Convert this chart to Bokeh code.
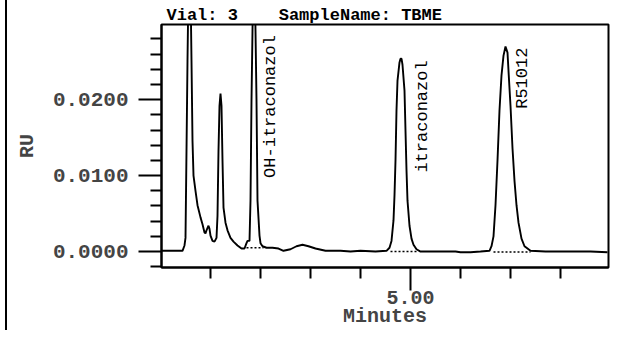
import math
from bokeh.plotting import figure
from bokeh.layouts import row
from bokeh.models import (FixedTicker, PrintfTickFormatter, Range1d,
                          ColumnDataSource, Spacer)
from bokeh.core.properties import value
from bokeh.embed import file_html
from bokeh.resources import INLINE

# ---- data ----
time_min = [
    2.51, 2.72, 2.74, 2.75, 2.76, 2.77, 2.79, 2.81, 2.82, 2.83,
    2.85, 2.87, 2.90, 2.92, 2.94, 2.95, 2.96, 2.98, 2.99, 3.00,
    3.02, 3.04, 3.06, 3.07, 3.08, 3.09, 3.10, 3.11, 3.12, 3.13,
    3.15, 3.17, 3.20, 3.23, 3.27, 3.31, 3.34, 3.36, 3.37, 3.39,
    3.40, 3.41, 3.42, 3.435, 3.45, 3.46, 3.47, 3.49, 3.50, 3.52,
    3.56, 3.62, 3.68, 3.73, 3.80, 3.86, 3.92, 3.98, 4.05, 4.15,
    4.30, 4.40, 4.50, 4.65, 4.76, 4.79, 4.81, 4.83, 4.84, 4.85,
    4.86, 4.87, 4.89, 4.90, 4.91, 4.92, 4.94, 4.95, 4.96, 4.97,
    4.99, 5.01, 5.03, 5.06, 5.10, 5.30, 5.45, 5.50, 5.60, 5.70,
    5.79, 5.81, 5.83, 5.85, 5.87, 5.89, 5.91, 5.93, 5.95, 5.97,
    5.98, 6.00, 6.02, 6.04, 6.06, 6.08, 6.11, 6.14, 6.20, 6.35,
    6.60, 6.80, 6.97,
]
signal_ru = [
    0.0001, 0.0001, 0.0008, 0.0018, 0.0133, 0.0251, 0.0450, 0.0251, 0.0146, 0.0100,
    0.0080, 0.0061, 0.0045, 0.0036, 0.0025, 0.0024, 0.0028, 0.0034, 0.0030, 0.0021,
    0.0014, 0.0013, 0.0018, 0.0047, 0.0133, 0.0192, 0.0208, 0.0192, 0.0120, 0.0058,
    0.0038, 0.0028, 0.0018, 0.0013, 0.0008, 0.0004, 0.0004, 0.0011, 0.0014, 0.0014,
    0.0067, 0.0199, 0.0291, 0.0420, 0.0291, 0.0199, 0.0067, 0.0021, 0.0011, 0.0007,
    0.0005, 0.0005, 0.0004, 0.0001, 0.0003, 0.0007, 0.0009, 0.0007, 0.0004, 0.0001,
    0.0001, 0.0000, 0.0001, 0.0000, 0.0001, 0.0005, 0.0014, 0.0041, 0.0074, 0.0120,
    0.0186, 0.0225, 0.0249, 0.0254, 0.0254, 0.0246, 0.0212, 0.0159, 0.0107, 0.0067,
    0.0034, 0.0017, 0.0009, 0.0003, 0.0000, 0.0000, 0.0000, -0.0001, -0.0001, 0.0000,
    0.0001, 0.0007, 0.0020, 0.0061, 0.0120, 0.0186, 0.0232, 0.0258, 0.0270, 0.0262,
    0.0238, 0.0192, 0.0136, 0.0093, 0.0061, 0.0038, 0.0017, 0.0007, 0.0001, 0.0000,
    0.0000, 0.0000, -0.0001,
]

peak_names = ["OH-itraconazol", "itraconazol", "R51012"]
label_t = [3.60, 5.12, 6.12]
label_v = [0.0097, 0.0104, 0.0188]

base_start = [3.36, 4.80, 5.83]
base_end = [3.53, 5.07, 6.20]
base_level = [0.0005, 0.0, -0.00005]

y_major = [0.0, 0.01, 0.02]
y_minor = [-0.002, 0.002, 0.004, 0.006, 0.008, 0.012, 0.014, 0.016, 0.018,
           0.022, 0.024, 0.026, 0.028]
x_major = [5.0]
x_minor = [3.0, 3.5, 4.0, 4.5, 5.5, 6.0, 6.5]

# non-breaking spaces keep the wide gap of the header
title_text = "Vial: 3\u00a0\u00a0\u00a0\u00a0SampleName: TBME"
x_label = "Minutes"
y_label = "RU"

FONT = "Liberation Mono"

p = figure(width=606, height=330,
           x_range=Range1d(2.51, 6.98), y_range=Range1d(-0.0021, 0.0299),
           output_backend="svg", toolbar_location=None,
           min_border_left=153, min_border_right=6,
           min_border_top=24, min_border_bottom=63)

p.background_fill_color = "white"
p.border_fill_color = "white"
p.outline_line_color = "black"
p.outline_line_width = 2
p.xgrid.visible = False
p.ygrid.visible = False

# header
p.title.text = title_text
p.title.align = "left"
p.title.offset = 5
p.title.standoff = 0
p.title.text_font = FONT
p.title.text_font_style = "bold"
p.title.text_font_size = "17px"
p.title.text_color = "black"

# trace
p.line(time_min, signal_ru, line_color="black", line_width=1.9)

# integration baselines (dotted)
p.segment(x0=base_start, y0=base_level, x1=base_end, y1=base_level,
          line_color="black", line_width=1.5, line_dash="2 2")

# peak labels
src = ColumnDataSource(dict(x=label_t, y=label_v, t=peak_names))
p.text(x="x", y="y", text="t", source=src, angle=math.pi / 2,
       text_align="left", text_baseline="middle",
       text_font=value(FONT), text_font_size="17px", text_color="black")

# y axis
ya = p.yaxis[0]
ya.ticker = FixedTicker(ticks=y_major, minor_ticks=y_minor)
ya.formatter = PrintfTickFormatter(format="%.4f")
ya.major_tick_out = 23
ya.minor_tick_out = 11
ya.major_tick_in = 0
ya.minor_tick_in = 0
ya.major_tick_line_width = 2
ya.minor_tick_line_width = 2
ya.axis_line_width = 2
ya.major_label_text_font = FONT
ya.major_label_text_font_style = "bold"
ya.major_label_text_font_size = "21px"
ya.major_label_standoff = 10
ya.axis_label = y_label
ya.axis_label_text_font = FONT
ya.axis_label_text_font_style = "bold"
ya.axis_label_text_font_size = "20px"
ya.axis_label_standoff = 11

# x axis
xa = p.xaxis[0]
xa.ticker = FixedTicker(ticks=x_major, minor_ticks=x_minor)
xa.formatter = PrintfTickFormatter(format="%.2f")
xa.major_tick_out = 23
xa.minor_tick_out = 11
xa.major_tick_in = 0
xa.minor_tick_in = 0
xa.major_tick_line_width = 2
xa.minor_tick_line_width = 2
xa.axis_line_width = 2
xa.major_label_text_font = FONT
xa.major_label_text_font_style = "bold"
xa.major_label_text_font_size = "20px"
xa.major_label_standoff = 0
xa.axis_label = x_label
xa.axis_label_text_font = FONT
xa.axis_label_text_font_style = "bold"
xa.axis_label_text_font_size = "20px"
xa.axis_label_standoff = -2

# page edge line at the far left of the scan
edge = Spacer(width=2, height=330, styles={"background-color": "black"})
layout = row(Spacer(width=5, height=330), edge, Spacer(width=1, height=330), p)

open("out.html", "w").write(file_html(layout, INLINE))
